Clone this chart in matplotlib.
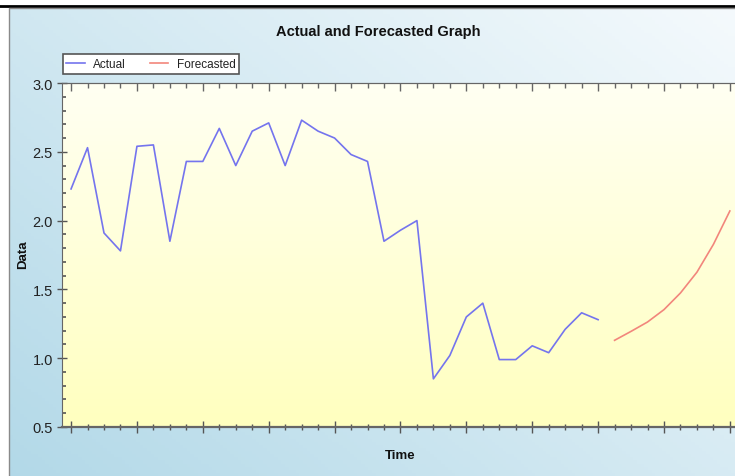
import numpy as np
import matplotlib
matplotlib.use('Agg')
import matplotlib.pyplot as plt
from matplotlib.ticker import MultipleLocator, NullFormatter, FormatStrFormatter
from matplotlib.lines import Line2D

# values
actual = [2.23, 2.53, 1.91, 1.78, 2.54, 2.55, 1.85, 2.43, 2.43, 2.67,
          2.40, 2.65, 2.71, 2.40, 2.73, 2.65, 2.60, 2.48, 2.43, 1.85,
          1.93, 2.00, 0.85, 1.02, 1.30, 1.40, 0.99, 0.99, 1.09, 1.04,
          1.21, 1.33, 1.28]
forecast = [1.13, 1.195, 1.263, 1.353, 1.474, 1.625, 1.827, 2.07]
actual_x = np.arange(len(actual))
forecast_x = np.arange(len(actual), len(actual) + len(forecast))

title = 'Actual and Forecasted Graph'
xlabel = 'Time'
ylabel = 'Data'

W, H = 735, 477
sans = ['Liberation Sans', 'DejaVu Sans']

fig = plt.figure(figsize=(W / 100, H / 100), dpi=100)
fig.patch.set_facecolor('white')

# panel background (blue gradient)
bg = fig.add_axes([9 / W, 0, 1 - 9 / W, 1 - 9 / H], zorder=-5)
bg.set_axis_off()
gx, gy = np.meshgrid(np.linspace(0, 1, 200), np.linspace(1, 0, 150))
t = np.clip(0.55 * gx + 0.45 * gy, 0, 1)[..., None]
c0 = np.array([0.70, 0.85, 0.91])
c1 = np.array([0.96, 0.98, 0.99])
bg.imshow(c0 * (1 - t) + c1 * t, aspect='auto', extent=(0, 1, 0, 1))
bg.set_xlim(0, 1)
bg.set_ylim(0, 1)

# black bar at top and gray panel border
fig.add_artist(Line2D([0, 1], [1 - 7 / H, 1 - 7 / H], color='black', lw=2.0,
                      transform=fig.transFigure))
fig.add_artist(Line2D([9 / W, 9 / W, 1], [0, 1 - 9 / H, 1 - 9 / H], color='#8a8a8a', lw=1.0,
                      transform=fig.transFigure))

# plot area: left spine at x=62, bottom at y=428, top at y=84, 16.47 px per step
px_step = 16.47
xmin, xmax = -0.55, 45
left = 62 / W
bottom = 1 - 428 / H
height = (428 - 84) / H
width = (xmax - xmin) * px_step / W
ax = fig.add_axes([left, bottom, width, height])
ax.set_xlim(xmin, xmax)
ax.set_ylim(0.5, 3.0)

# yellow gradient
yy = np.linspace(1, 0, 100)[:, None, None]
top_c = np.array([1.0, 1.0, 0.95])
bot_c = np.array([1.0, 1.0, 0.75])
grad = top_c * yy + bot_c * (1 - yy)
grad = np.repeat(grad, 2, axis=1)
ax.imshow(grad, aspect='auto', extent=(0, 1, 0, 1), transform=ax.transAxes, zorder=0)

ax.plot(actual_x, actual, color='#7474ee', lw=1.2, label='Actual', zorder=3)
ax.plot(forecast_x, forecast, color='#f2867c', lw=1.2, label='Forecasted', zorder=3)

for s in ['left', 'bottom', 'top']:
    ax.spines[s].set_color('#666666')
ax.spines['bottom'].set_linewidth(1.6)
ax.spines['right'].set_visible(False)

ax.xaxis.set_major_locator(MultipleLocator(4))
ax.xaxis.set_minor_locator(MultipleLocator(1))
ax.xaxis.set_major_formatter(NullFormatter())
ax.yaxis.set_major_locator(MultipleLocator(0.5))
ax.yaxis.set_minor_locator(MultipleLocator(0.1))
ax.yaxis.set_major_formatter(FormatStrFormatter('%.1f'))

ax.tick_params(axis='x', which='major', direction='inout', length=9, width=1, color='#555555')
ax.tick_params(axis='x', which='minor', direction='inout', length=5, width=1, color='#555555')
ax.tick_params(axis='y', which='major', direction='inout', length=7, width=1, color='#555555',
               pad=3, labelsize=10.5, labelcolor='#222222')
ax.tick_params(axis='y', which='minor', direction='in', length=3, width=1.2, color='#555555')
for lab in ax.get_yticklabels():
    lab.set_family(sans)

# ticks hanging down from the top edge
sec = ax.secondary_xaxis('top')
sec.xaxis.set_major_locator(MultipleLocator(4))
sec.xaxis.set_minor_locator(MultipleLocator(1))
sec.xaxis.set_major_formatter(NullFormatter())
sec.tick_params(which='major', direction='in', length=6, width=1, color='#666666')
sec.tick_params(which='minor', direction='in', length=3.5, width=1, color='#666666')
sec.spines['top'].set_color('#666666')

fig.text(378 / W, 1 - 32 / H, title, ha='center', va='center', fontsize=10.5,
         family=sans, fontweight='bold', color='#111111')
fig.text(400 / W, 1 - 456 / H, xlabel, ha='center', va='center', fontsize=9.5,
         family=sans, fontweight='bold', color='#111111')
fig.text(23 / W, 1 - 255 / H, ylabel, ha='center', va='center', fontsize=9.5,
         rotation=90, fontweight='bold', color='#111111', family=sans)

leg = ax.legend(loc='lower left', bbox_to_anchor=(62.5 / W, 1 - 74.5 / H),
                bbox_transform=fig.transFigure, ncol=2, frameon=True, fancybox=False,
                borderaxespad=0, borderpad=0.3, handlelength=1.6, handletextpad=0.7,
                columnspacing=2.0, prop={'family': sans, 'size': 8.5})
leg.get_frame().set_edgecolor('#555555')
leg.get_frame().set_linewidth(1.2)
leg.get_frame().set_facecolor('white')
leg.get_frame().set_alpha(1)
for t_ in leg.get_texts():
    t_.set_color('#222222')

fig.savefig('out.png', dpi=100)
